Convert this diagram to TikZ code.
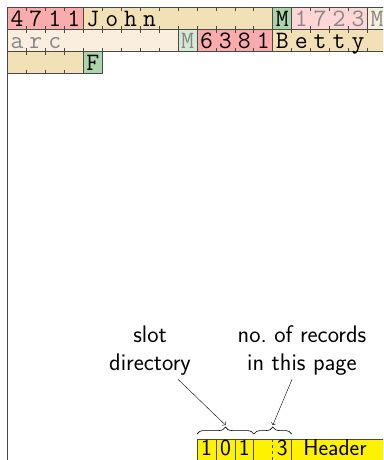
\documentclass[tikz,border=0pt]{standalone}
\usepackage{fontspec}
\usepackage{tikz}
\usetikzlibrary{positioning,arrows.meta,calc,decorations.pathreplacing}

\definecolor{idred}{RGB}{250,172,172}
\definecolor{nametan}{RGB}{242,224,182}
\definecolor{sexgreen}{RGB}{170,212,170}
\definecolor{delred}{RGB}{255,214,214}
\definecolor{deltan}{RGB}{250,239,222}
\definecolor{delgreen}{RGB}{212,234,212}
\definecolor{delgray}{RGB}{135,135,135}
\definecolor{rulegray}{RGB}{72,72,72}

% one field of a record: column, row, width, fill, text colour, letters
\newcommand{\field}[6]{%
  \filldraw[fill=#4,draw=rulegray] (#1,#2) rectangle ++(#3,1);
  \ifnum#3>1
    \pgfmathtruncatemacro\lastk{#3-1}
    \foreach \k in {1,...,\lastk}
      \draw[rulegray] (#1+\k,#2) -- ++(0,0.18) (#1+\k,#2+1) -- ++(0,-0.18);
  \fi
  \if\relax\detokenize{#6}\relax\else
    \foreach \c [count=\k from 0] in {#6}
      \node[letter,text=#5] (l-#1-#2-\k) at (#1+\k+0.5,#2+0.86) {\c};
  \fi
}

\begin{document}
\begin{tikzpicture}[x=1pt,y=-1pt,>=To,
   letter/.style={font=\ttfamily\fontsize{25}{25}\selectfont,anchor=base,inner sep=0pt},
   note/.style={font=\sffamily\fontsize{24}{28}\selectfont,align=center},
   hdr/.style={font=\sffamily\fontsize{23}{23}\selectfont,anchor=base,inner sep=0pt}]
  \useasboundingbox (0,0) rectangle (383,460);
  \clip (0,0) rectangle (383,460);
  % the page
  \draw[rulegray,line width=0.8pt] (7.5,7.5) rectangle (386.5,461);
  \begin{scope}[shift={(7.5,7.5)},x=18.95pt,y=-22pt,line width=0.8pt]
    % 4711 John M
    \field{0}{0}{4}{idred}{black}{4,7,1,1}
    \field{4}{0}{10}{nametan}{black}{J,o,h,n}
    \field{14}{0}{1}{sexgreen}{black}{M}
    % 1723 Marc M, deleted
    \field{15}{0}{4}{delred}{delgray}{1,7,2,3}
    \field{19}{0}{1}{deltan}{delgray}{M}
    \field{0}{1}{9}{deltan}{delgray}{a,r,c}
    \field{9}{1}{1}{delgreen}{delgray}{M}
    % 6381 Betty F
    \field{10}{1}{4}{idred}{black}{6,3,8,1}
    \field{14}{1}{6}{nametan}{black}{B,e,t,t,y}
    \field{0}{2}{4}{nametan}{black}{}
    \field{4}{2}{1}{sexgreen}{black}{F}
    % header at the end of the page
    \fill[yellow] (10,19.61) rectangle (20,20.7);
    \draw[rulegray] (20,19.61) -- (10,19.61) -- (10,20.7);
    \foreach \k in {11,12,13,15}
      \draw[rulegray] (\k,19.61) -- ++(0,1.1);
    \draw[rulegray,dashed] (14,19.61) -- ++(0,1.1);
    \node[hdr] (h1) at (10.5,20.36) {1};
    \node[hdr] (h2) at (11.5,20.36) {0};
    \node[hdr] (h3) at (12.5,20.36) {1};
    \node[hdr] (h5) at (14.5,20.36) {3};
    \node[hdr,anchor=base west] (hname) at (15.59,20.36) {Header};
    \draw[decorate,decoration={brace,amplitude=7pt},line width=0.6pt] (10,19.39) -- (13,19.39);
    \draw[decorate,decoration={brace,amplitude=7pt},line width=0.6pt] (13,19.39) -- (15,19.39);
    \coordinate (dirtip) at (11.5,18.98);
    \coordinate (cnttip) at (14,18.98);
  \end{scope}
  \node[note] (slotdir) at (150,351) {slot\\directory};
  \node[note] (reccount) at (302,351) {no.\ of records\\in this page};
  \draw[->] ([xshift=28pt]slotdir.south) -- (dirtip);
  \draw[->] ([xshift=-10pt]reccount.south) -- (cnttip);
\end{tikzpicture}
\end{document}
